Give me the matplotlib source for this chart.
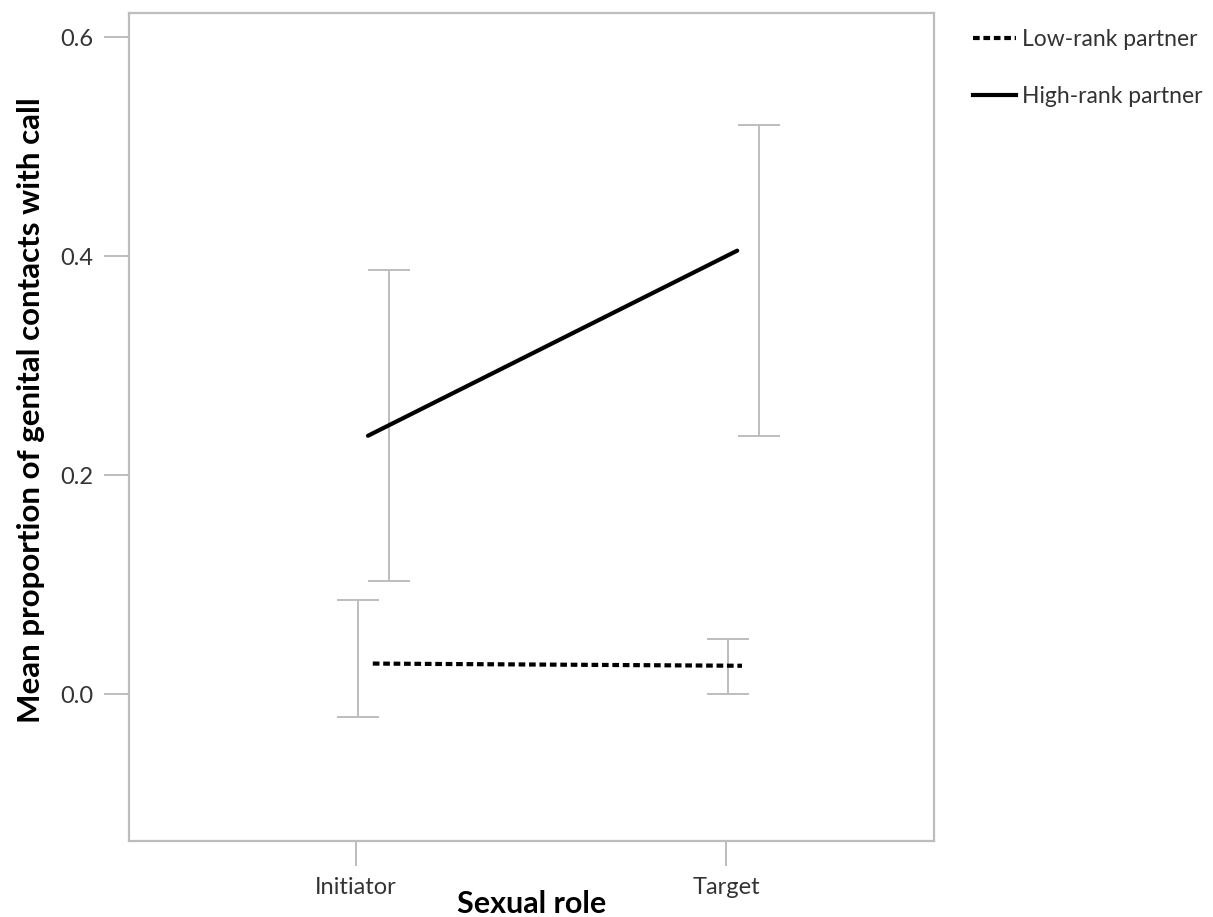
import numpy as np
import matplotlib.pyplot as plt
from matplotlib.lines import Line2D

# Dados: proporção média de contatos genitais com chamada, por papel sexual
papeis = ["Initiator", "Target"]
parceiros = ["Low-rank partner", "High-rank partner"]

media_baixo = [0.028, 0.026]
ic_inf_baixo = [-0.021, 0.000]
ic_sup_baixo = [0.086, 0.050]

media_alto = [0.236, 0.405]
ic_inf_alto = [0.103, 0.236]
ic_sup_alto = [0.387, 0.520]

plt.rcParams["font.family"] = ["Lato", "DejaVu Sans"]

cinza = "#bdbdbd"
texto = "#333333"

fig = plt.figure(figsize=(12.13, 9.17), dpi=100)
ax = fig.add_axes([129 / 1213, 1 - 841 / 917, (934 - 129) / 1213, (841 - 13) / 917])

x = np.arange(len(papeis))

# Barras de erro (IC 95%) deslocadas para cada parceiro
for desloc, inf, sup in [(0.005, ic_inf_baixo, ic_sup_baixo), (0.088, ic_inf_alto, ic_sup_alto)]:
    xs = x + desloc
    ax.vlines(xs, inf, sup, color=cinza, linewidth=1.4, zorder=1)
    ax.hlines(inf, xs - 0.057, xs + 0.057, color=cinza, linewidth=1.4, zorder=1)
    ax.hlines(sup, xs - 0.057, xs + 0.057, color=cinza, linewidth=1.4, zorder=1)

# Linhas das médias
ax.plot([x[0] + 0.045, x[1] + 0.043], media_baixo, color="black",
        linewidth=3.0, linestyle=(0, (1.6, 0.9)), zorder=3)
ax.plot([x[0] + 0.032, x[1] + 0.030], media_alto, color="black",
        linewidth=3.0, solid_capstyle="round", zorder=3)

ax.set_xlim(-0.614, 1.562)
ax.set_ylim(-0.134, 0.622)
ax.set_xticks(x)
ax.set_xticklabels(papeis)
ax.set_yticks([0.0, 0.2, 0.4, 0.6])
ax.set_yticklabels(["0.0", "0.2", "0.4", "0.6"])

for lado in ax.spines.values():
    lado.set_color(cinza)
    lado.set_linewidth(1.6)

ax.tick_params(axis="both", colors=cinza, length=18, width=1.4,
               labelsize=17, labelcolor=texto, pad=8)

ax.set_xlabel("Sexual role", fontsize=22, fontweight="bold", color="black", va="baseline")
ax.xaxis.set_label_coords(0.5, -0.087)
ax.set_ylabel("Mean proportion of genital contacts with call", fontsize=22.5,
              fontweight="bold", color="black", va="center")
ax.yaxis.set_label_coords(-0.122, 0.52)

# Legenda fora do gráfico, no canto superior direito
itens = [
    Line2D([0], [0], color="black", linewidth=3.0, linestyle=(0, (1.6, 0.9))),
    Line2D([0], [0], color="black", linewidth=3.0),
]
leg = fig.legend(itens, parceiros, loc="upper left", bbox_to_anchor=(952 / 1213, 1 - 8 / 917),
                 frameon=False, fontsize=16.5, handlelength=1.9, handletextpad=0.25,
                 labelspacing=1.6, labelcolor=texto)

fig.savefig("out.png", dpi=100)
